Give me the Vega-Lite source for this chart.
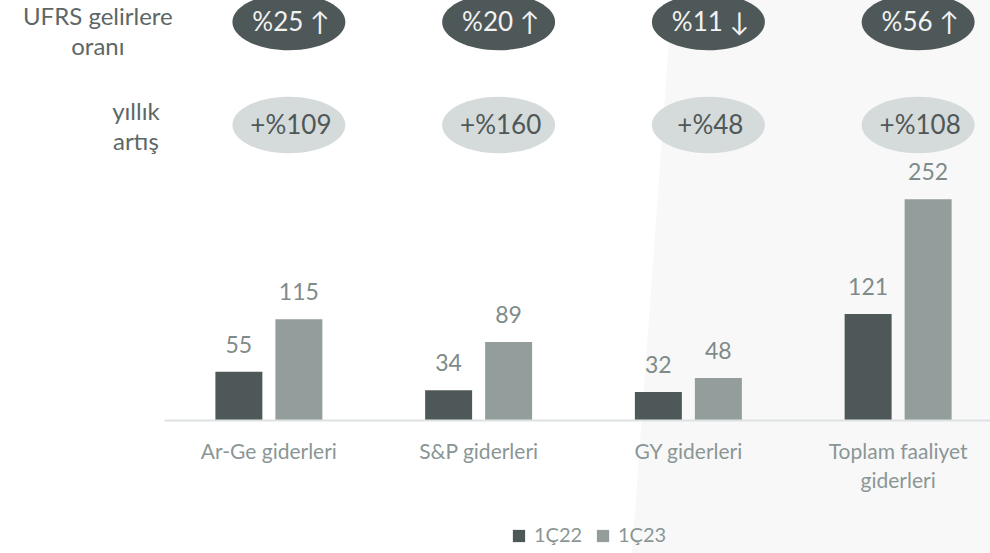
{
  "$schema": "https://vega.github.io/schema/vega-lite/v6.json",
  "width": 839,
  "height": 420,
  "autosize": {"type": "none"},
  "padding": {"left": 164, "top": 0, "right": 0, "bottom": 133},
  "background": "white",
  "config": {"view": {"stroke": null}, "font": "Lato"},
  "datasets": {
    "bg": [
      {"depth": 0, "edge": 672, "right": 1010},
      {"depth": 553, "edge": 632, "right": 1010}
    ],
    "bars": [
      {"category": "Ar-Ge giderleri", "period": "1Ç22", "value": 55},
      {"category": "Ar-Ge giderleri", "period": "1Ç23", "value": 115},
      {"category": "S&P giderleri", "period": "1Ç22", "value": 34},
      {"category": "S&P giderleri", "period": "1Ç23", "value": 89},
      {"category": "GY giderleri", "period": "1Ç22", "value": 32},
      {"category": "GY giderleri", "period": "1Ç23", "value": 48},
      {"category": "Toplam faaliyet giderleri", "period": "1Ç22", "value": 121},
      {"category": "Toplam faaliyet giderleri", "period": "1Ç23", "value": 252}
    ],
    "badges": [
      {"category": "Ar-Ge giderleri", "row": "oran", "label": "%25 ↑"},
      {"category": "S&P giderleri", "row": "oran", "label": "%20 ↑"},
      {"category": "GY giderleri", "row": "oran", "label": "%11 ↓"},
      {"category": "Toplam faaliyet giderleri", "row": "oran", "label": "%56 ↑"},
      {"category": "Ar-Ge giderleri", "row": "artis", "label": "+%109"},
      {"category": "S&P giderleri", "row": "artis", "label": "+%160"},
      {"category": "GY giderleri", "row": "artis", "label": "+%48"},
      {"category": "Toplam faaliyet giderleri", "row": "artis", "label": "+%108"}
    ],
    "rowlabels": [
      {"row": "oran", "text": "UFRS gelirlere\noranı"},
      {"row": "artis", "text": "yıllık\nartış"}
    ]
  },
  "layer": [
    {
      "data": {"name": "bg"},
      "mark": {"type": "area", "orient": "horizontal", "color": "#f8f8f8", "clip": false},
      "encoding": {
        "y": {"field": "depth", "type": "quantitative", "scale": {"domain": [0, 420], "reverse": true, "nice": false, "zero": false}, "axis": null},
        "x": {"field": "edge", "type": "quantitative", "scale": {"domain": [164, 1003], "nice": false, "zero": false}, "axis": null},
        "x2": {"field": "right"}
      }
    },
    {
      "layer": [
        {
          "data": {"name": "bars"},
          "encoding": {
            "x": {
              "field": "category", "type": "nominal", "sort": null,
              "scale": {"paddingInner": 0.49, "paddingOuter": 0.245},
              "axis": {
                "title": null, "labelAngle": 0, "labelFontSize": 21, "labelColor": "#8a9695",
                "labelFont": "Lato", "labelPadding": 21, "ticks": false, "tickSize": 0,
                "domainColor": "#dde2e2", "domainWidth": 2, "labelBaseline": "top",
                "labelLineHeight": 29, "zindex": 1, "grid": false, "labelLimit": 400,
                "labelExpr": "datum.value == 'Toplam faaliyet giderleri' ? ['Toplam faaliyet', 'giderleri'] : datum.label"
              }
            },
            "xOffset": {"field": "period", "type": "nominal", "scale": {"paddingInner": 0.217, "paddingOuter": 0}},
            "y": {"field": "value", "type": "quantitative", "scale": {"domain": [0, 479.5], "nice": false}, "axis": null}
          },
          "layer": [
            {
              "mark": {"type": "bar"},
              "encoding": {
                "color": {
                  "field": "period", "type": "nominal",
                  "scale": {"domain": ["1Ç22", "1Ç23"], "range": ["#4f5858", "#939d9c"]},
                  "legend": {
                    "orient": "none", "legendX": 345, "legendY": 526, "direction": "horizontal",
                    "title": null, "symbolType": "square", "symbolSize": 150, "symbolStrokeWidth": 0,
                    "labelFontSize": 20, "labelColor": "#8a9695", "labelFont": "Lato",
                    "labelOffset": 5, "columnPadding": 10, "padding": 0
                  }
                }
              }
            },
            {
              "mark": {"type": "text", "baseline": "alphabetic", "dy": -19, "fontSize": 23, "color": "#7f8b8a"},
              "encoding": {"text": {"field": "value", "type": "quantitative"}}
            }
          ]
        },
        {
          "encoding": {
            "y": {"field": "row", "type": "nominal", "scale": {"type": "point", "domain": ["oran", "artis"], "range": [22, 125], "padding": 0}, "axis": null}
          },
          "layer": [
            {
              "data": {"name": "badges"},
              "mark": {"type": "point", "shape": "M-1,0A1,0.5,0,1,1,1,0A1,0.5,0,1,1,-1,0Z", "size": 12769, "filled": true, "opacity": 1, "xOffset": 20, "strokeWidth": 0},
              "encoding": {
                "x": {"field": "category", "type": "nominal", "sort": null},
                "fill": {"condition": {"test": "datum.row == 'oran'", "value": "#4f5858"}, "value": "#d5dbdb"}
              }
            },
            {
              "data": {"name": "badges"},
              "mark": {"type": "text", "baseline": "middle", "dy": 1, "xOffset": 22, "fontSize": 26},
              "encoding": {
                "x": {"field": "category", "type": "nominal", "sort": null},
                "text": {"field": "label"},
                "color": {"condition": {"test": "datum.row == 'oran'", "value": "#f2f2f2"}, "value": "#4f5858"}
              }
            },
            {
              "data": {"name": "rowlabels"},
              "transform": [{"filter": "datum.row == 'oran'"}],
              "mark": {"type": "text", "align": "center", "baseline": "alphabetic", "dx": -171, "dy": 3, "fontSize": 24, "lineHeight": 30, "lineBreak": "\n", "color": "#5d6767"},
              "encoding": {
                "x": {"datum": "Ar-Ge giderleri"},
                "text": {"field": "text"}
              }
            },
            {
              "data": {"name": "rowlabels"},
              "transform": [{"filter": "datum.row == 'artis'"}],
              "mark": {"type": "text", "align": "center", "baseline": "alphabetic", "dx": -133, "dy": -5, "fontSize": 24, "lineHeight": 30, "lineBreak": "\n", "color": "#5d6767"},
              "encoding": {
                "x": {"datum": "Ar-Ge giderleri"},
                "text": {"field": "text"}
              }
            }
          ]
        }
      ],
      "resolve": {"scale": {"y": "independent"}}
    }
  ],
  "resolve": {"scale": {"x": "independent", "y": "independent"}}
}
